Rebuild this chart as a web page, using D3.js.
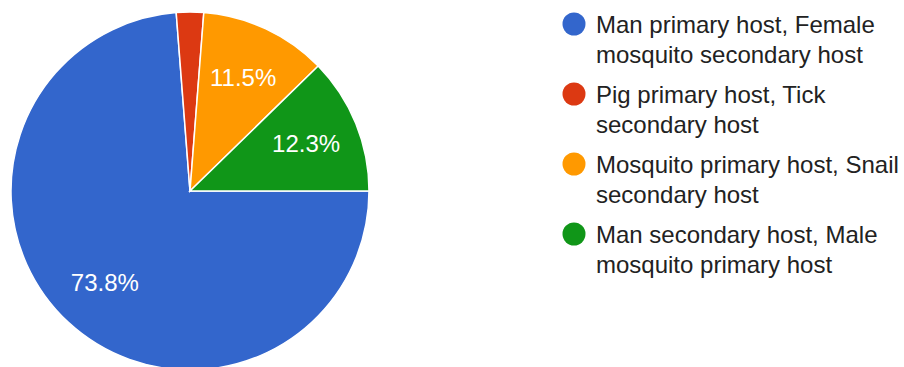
<!DOCTYPE html>
<html>
<head>
<meta charset="utf-8">
<script src="https://cdn.jsdelivr.net/npm/d3@7"></script>
<style>
  html, body { margin: 0; padding: 0; background: #fff; }
  svg { display: block; font-family: Arial, "Liberation Sans", sans-serif; }
</style>
</head>
<body>
<div id="chart"></div>
<script>
"use strict";
// données : nombre de réponses par option
const categories = [
  ["Man primary host, Female", "mosquito secondary host"],
  ["Pig primary host, Tick", "secondary host"],
  ["Mosquito primary host, Snail", "secondary host"],
  ["Man secondary host, Male", "mosquito primary host"]
];
const counts = [90, 3, 14, 15];
const colors = ["#3366cc", "#dc3912", "#ff9900", "#109618"];

const width = 904, height = 367;
const cx = 190, cy = 191, radius = 179;

const svg = d3.select("#chart").append("svg")
    .attr("width", width).attr("height", height);

const total = d3.sum(counts);
const pie = d3.pie().sort(null).value(d => d)
    .startAngle(Math.PI / 2).endAngle(Math.PI / 2 + 2 * Math.PI);
const arcs = pie(counts);
const arc = d3.arc().innerRadius(0).outerRadius(radius);
const labelArc = d3.arc().innerRadius(radius * 0.7).outerRadius(radius * 0.7);

const g = svg.append("g").attr("transform", `translate(${cx},${cy})`);
g.selectAll("path").data(arcs).enter().append("path")
    .attr("d", arc)
    .attr("fill", (d, i) => colors[i])
    .attr("stroke", "#fff").attr("stroke-width", 1.5);

// étiquettes : pas pour les tranches trop petites
g.selectAll("text").data(arcs.filter(d => d.value / total > 0.05)).enter().append("text")
    .attr("transform", d => `translate(${labelArc.centroid(d)})`)
    .attr("text-anchor", "middle")
    .attr("dy", "0.35em")
    .attr("fill", "#fff")
    .attr("font-size", 24)
    .text(d => (d.value / total * 100).toFixed(1) + "%");

// légende
const legend = svg.append("g").attr("transform", "translate(574,0)");
const item = legend.selectAll("g").data(categories).enter().append("g")
    .attr("transform", (d, i) => `translate(0,${24 + i * 70})`);
item.append("circle").attr("r", 11.5).attr("fill", (d, i) => colors[i]);
item.append("text")
    .attr("x", 22).attr("y", 9)
    .attr("font-size", 24).attr("fill", "#222")
    .selectAll("tspan").data(d => d).enter().append("tspan")
    .attr("x", 22).attr("dy", (d, i) => i ? 30 : 0)
    .text(d => d);
</script>
</body>
</html>
